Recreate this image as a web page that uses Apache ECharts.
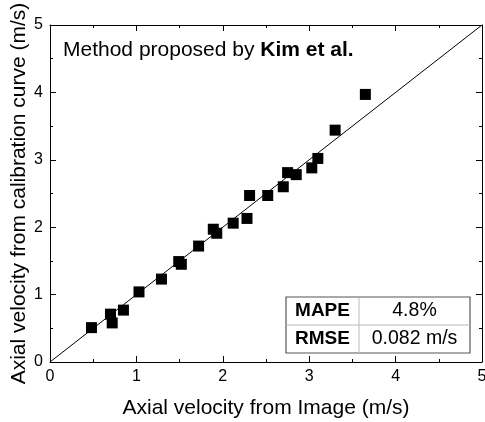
<!DOCTYPE html>
<html><head><meta charset="utf-8">
<script src="https://cdn.jsdelivr.net/npm/echarts@6/dist/echarts.min.js"></script>
<style>html,body{margin:0;padding:0;background:#fff}#c{width:485px;height:422px}</style>
</head><body><div id="c"></div>
<script>
var xImage = [0.48,0.70,0.72,0.85,1.03,1.29,1.49,1.52,1.72,1.89,1.93,2.12,2.28,2.31,2.52,2.70,2.75,2.85,3.03,3.10,3.30,3.65];
var yCalib = [0.51,0.71,0.58,0.77,1.04,1.23,1.49,1.45,1.72,1.97,1.91,2.06,2.13,2.47,2.47,2.60,2.81,2.78,2.88,3.02,3.44,3.97];
var refLine = [[0,0],[5,5]];
var tickLabels = ['0','1','2','3','4','5'];
var titleText = 'Method proposed by ';
var titleBold = 'Kim et al.';
var tableRows = [['MAPE','4.8%'],['RMSE','0.082 m/s']];

var pts = xImage.map(function(x,i){return [x,yCalib[i]];});
var font = 'Liberation Sans, Arial, sans-serif';
var chart = echarts.init(document.getElementById('c'));
function axisBase(show){
  return {
    type:'value', min:0, max:5, interval:1,
    axisLine:{show:true,onZero:false,lineStyle:{color:'#000',width:1}},
    axisTick:{show:true,inside:true,length:6,lineStyle:{color:'#000'}},
    minorTick:{show:true,splitNumber:2,length:3,lineStyle:{color:'#000'}},
    splitLine:{show:false},
    axisLabel:{show:show,color:'#000',fontSize:16,fontFamily:font,margin:7,
      formatter:function(v){return tickLabels[Math.round(v)];}}
  };
}
var xa = axisBase(true);
xa.name='Axial velocity from Image (m/s)'; xa.nameLocation='middle'; xa.nameGap=36; xa.nameMoveOverlap=false;
xa.nameTextStyle={fontSize:21,fontFamily:font,color:'#000'};
var ya = axisBase(true);
ya.name='Axial velocity from calibration curve (m/s)'; ya.nameLocation='middle'; ya.nameGap=20; ya.nameMoveOverlap=false;
ya.nameTextStyle={fontSize:21,fontFamily:font,color:'#000'};
var xt = axisBase(false); xt.position='top';
var yr = axisBase(false); yr.position='right';

var tx=286, ty=297, tw=184, th=56, cx=359, rowH=th/2;
var graphics=[
  {type:'rect',shape:{x:tx,y:ty,width:tw,height:th},style:{fill:'#fff',stroke:'#555',lineWidth:1.2}},
  {type:'line',shape:{x1:cx,y1:ty,x2:cx,y2:ty+th},style:{stroke:'#bbb',lineWidth:1}},
  {type:'line',shape:{x1:tx,y1:ty+rowH,x2:tx+tw,y2:ty+rowH},style:{stroke:'#bbb',lineWidth:1}}
];
tableRows.forEach(function(r,i){
  graphics.push({type:'text',x:(tx+cx)/2,y:ty+rowH*i+rowH/2,style:{text:r[0],font:'bold 19px '+font,fill:'#000',textAlign:'center',textVerticalAlign:'middle'}});
  graphics.push({type:'text',x:(cx+tx+tw)/2,y:ty+rowH*i+rowH/2,style:{text:r[1],font:'19.5px '+font,fill:'#000',textAlign:'center',textVerticalAlign:'middle'}});
});
graphics.push({type:'text',x:63,y:50,style:{rich:{n:{fontSize:21,fontFamily:font,fill:'#000'},b:{fontSize:21,fontFamily:font,fontWeight:'bold',fill:'#000'}},text:'{n|'+titleText+'}{b|'+titleBold+'}',textVerticalAlign:'middle'}});

chart.setOption({
  animation:false,
  grid:{left:50,right:3,top:25,bottom:60,containLabel:false,outerBoundsMode:'none'},
  xAxis:[xa,xt],
  yAxis:[ya,yr],
  series:[
    {type:'line',data:refLine,symbol:'none',lineStyle:{color:'#000',width:1},silent:true},
    {type:'scatter',data:pts,symbol:'rect',symbolSize:11,itemStyle:{color:'#000',opacity:1}}
  ],
  graphic:graphics
});
</script></body></html>
